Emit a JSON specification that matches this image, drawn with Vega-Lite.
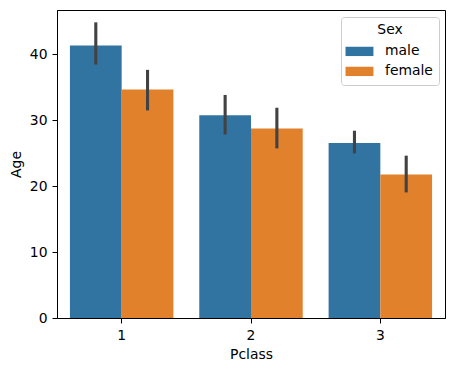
{
  "$schema": "https://vega.github.io/schema/vega-lite/v6.json",
  "width": 388,
  "height": 308,
  "autosize": {"type": "none"},
  "padding": {"left": 57, "top": 10, "right": 9, "bottom": 53},
  "background": "white",
  "config": {
    "font": "DejaVu Sans",
    "view": {"stroke": "black", "strokeWidth": 1},
    "axis": {
      "labelFont": "DejaVu Sans", "titleFont": "DejaVu Sans",
      "labelFontSize": 13.9, "titleFontSize": 13.9,
      "titleFontWeight": "normal", "labelColor": "black", "titleColor": "black",
      "domainColor": "black", "tickColor": "black", "tickSize": 5, "labelPadding": 5,
      "grid": false
    },
    "legend": {
      "labelFont": "DejaVu Sans", "titleFont": "DejaVu Sans",
      "labelFontSize": 13.9, "titleFontSize": 13.9, "titleFontWeight": "normal",
      "labelColor": "black", "titleColor": "black"
    }
  },
  "data": {
    "values": [
      {"Pclass": 1, "Sex": "male", "Age": 41.28, "lo": 38.4, "hi": 44.8},
      {"Pclass": 1, "Sex": "female", "Age": 34.61, "lo": 31.45, "hi": 37.6},
      {"Pclass": 2, "Sex": "male", "Age": 30.74, "lo": 27.8, "hi": 33.8},
      {"Pclass": 2, "Sex": "female", "Age": 28.72, "lo": 25.7, "hi": 31.86},
      {"Pclass": 3, "Sex": "male", "Age": 26.51, "lo": 24.94, "hi": 28.38},
      {"Pclass": 3, "Sex": "female", "Age": 21.75, "lo": 19.03, "hi": 24.6}
    ]
  },
  "encoding": {
    "x": {"field": "Pclass", "type": "ordinal", "title": "Pclass",
      "scale": {"paddingInner": 0.2, "paddingOuter": 0.1},
      "axis": {"labelAngle": 0, "titlePadding": 6}},
    "xOffset": {"field": "Sex", "type": "nominal", "sort": ["male", "female"],
      "scale": {"paddingInner": 0, "paddingOuter": 0}}
  },
  "layer": [
    {
      "mark": {"type": "bar"},
      "encoding": {
        "y": {"field": "Age", "type": "quantitative", "title": "Age",
          "scale": {"domain": [0, 46.67], "nice": false},
          "axis": {"values": [0, 10, 20, 30, 40], "titlePadding": 6}},
        "color": {"field": "Sex", "type": "nominal", "sort": ["male", "female"],
          "scale": {"domain": ["male", "female"], "range": ["#3274a1", "#e1812c"]},
          "legend": {
            "title": "Sex", "orient": "none", "legendX": 284, "legendY": 7,
            "titleAnchor": "middle", "padding": 6, "titlePadding": 5,
            "rowPadding": 3, "labelOffset": 19,
            "symbolType": "M-1.18,-0.5H1.82V0.5H-1.18Z", "symbolSize": 346,
            "symbolStrokeWidth": 0, "symbolOpacity": 1,
            "strokeColor": "#cccccc", "fillColor": "white", "cornerRadius": 3
          }}
      }
    },
    {
      "mark": {"type": "rule", "color": "#424242", "strokeWidth": 3.1},
      "encoding": {
        "y": {"field": "lo", "type": "quantitative"},
        "y2": {"field": "hi"}
      }
    }
  ]
}
